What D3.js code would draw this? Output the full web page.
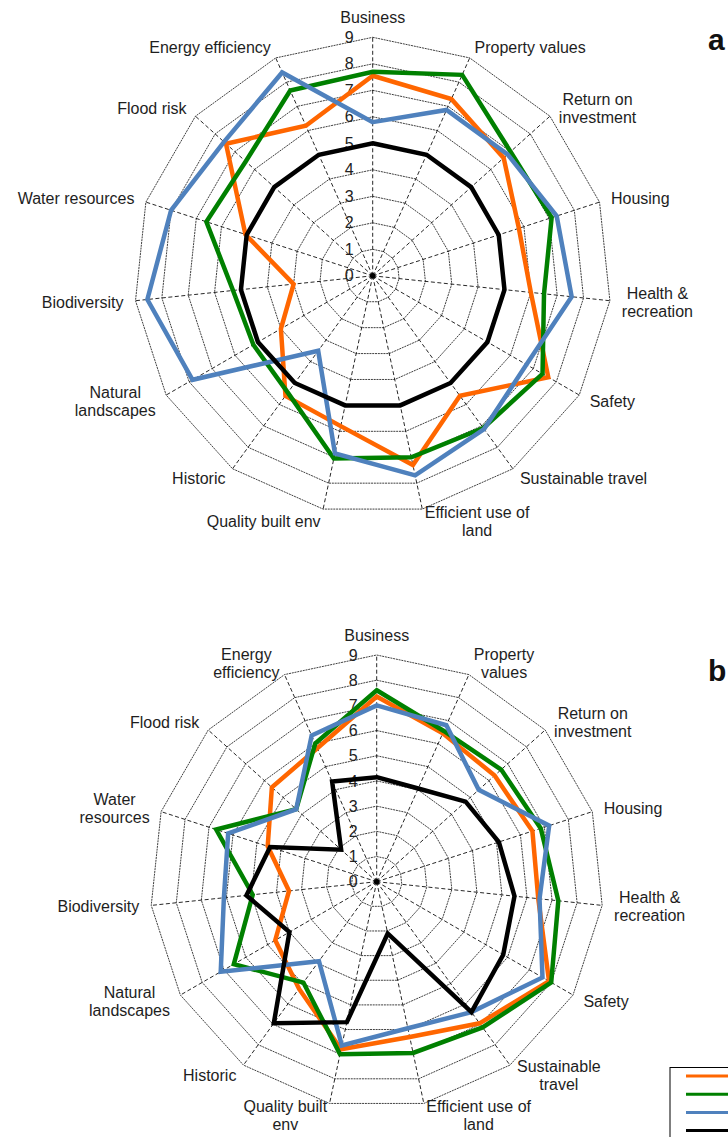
<!DOCTYPE html>
<html>
<head>
<meta charset="utf-8">
<script src="https://cdn.jsdelivr.net/npm/d3@7/dist/d3.min.js"></script>
<style>
  html, body { margin: 0; padding: 0; background: #fff; }
  svg { display: block; font-family: "Liberation Sans", Arial, sans-serif; }
</style>
</head>
<body>
<svg id="chart" width="728" height="1137"></svg>
<script>
// Fifteen assessment criteria, clockwise from the top
const categories = [
  "Business", "Property values", "Return on investment", "Housing",
  "Health & recreation", "Safety", "Sustainable travel", "Efficient use of land",
  "Quality built env", "Historic", "Natural landscapes", "Biodiversity",
  "Water resources", "Flood risk", "Energy efficiency"
];

// Axis captions as wrapped in each panel ("\n" = line break)
const labelsA = [
  "Business", "Property values", "Return on\ninvestment", "Housing",
  "Health &\nrecreation", "Safety", "Sustainable travel", "Efficient use of\nland",
  "Quality built env", "Historic", "Natural\nlandscapes", "Biodiversity",
  "Water resources", "Flood risk", "Energy efficiency"
];
const labelsB = [
  "Business", "Property\nvalues", "Return on\ninvestment", "Housing",
  "Health &\nrecreation", "Safety", "Sustainable\ntravel", "Efficient use of\nland",
  "Quality built\nenv", "Historic", "Natural\nlandscapes", "Biodiversity",
  "Water\nresources", "Flood risk", "Energy\nefficiency"
];

// Radial tick labels
const tickValues = [0, 1, 2, 3, 4, 5, 6, 7, 8, 9];

// Panel a scores
const aOrange = [7.55, 7.3, 6.65, 5.8, 6.0, 7.65, 5.6, 7.3, 5.8, 5.6, 4.0, 3.0, 5.05, 7.45, 6.2];
const aGreen  = [7.7, 8.3, 7.0, 7.1, 6.5, 7.4, 7.1, 7.0, 7.05, 5.45, 5.2, 5.3, 6.6, 6.45, 7.65];
const aBlue   = [5.8, 6.85, 6.85, 7.3, 7.55, 6.7, 7.15, 7.7, 6.85, 3.5, 7.85, 8.55, 8.0, 7.55, 8.4];
const aBlack  = [5, 5, 5, 5, 5, 5, 5, 5, 5, 5, 5, 5, 5, 5, 5];

// Panel b scores
const bOrange = [7.35, 6.45, 6.3, 6.5, 6.45, 7.9, 6.95, 6.3, 6.8, 5.25, 4.65, 3.5, 4.55, 5.6, 5.8];
const bGreen  = [7.6, 6.55, 6.65, 6.85, 7.25, 8.0, 7.15, 6.95, 7.0, 4.95, 6.55, 4.95, 6.7, 4.3, 6.0];
const bBlue   = [7.0, 6.8, 5.45, 7.2, 6.5, 7.6, 6.4, 5.95, 6.65, 3.9, 7.15, 6.1, 6.2, 4.3, 6.35];
const bBlack  = [4.15, 4.05, 4.75, 5.1, 5.5, 5.8, 6.4, 2.1, 5.7, 6.95, 4.0, 5.2, 4.45, 1.9, 4.35];

const seriesColors = ["#ff6600", "#008000", "#4f81bd", "#000000"];

const svg = d3.select("#chart");

function drawRadar(opts) {
  const { cx, cy, R, labels, series, tag, tagY } = opts;
  const n = categories.length;
  const r = d3.scaleLinear().domain([0, 9]).range([0, R]);
  const angle = d3.scaleLinear().domain([0, n]).range([0, 2 * Math.PI]);

  const g = svg.append("g").attr("transform", `translate(${cx},${cy})`);

  // concentric grid polygons, one per tick value
  const ringLine = d3.lineRadial()
    .angle((d, i) => angle(i))
    .radius(d => r(d))
    .curve(d3.curveLinearClosed);
  g.append("g").selectAll("path")
    .data(tickValues.filter(v => v > 0))
    .join("path")
    .attr("d", v => ringLine(categories.map(() => v)))
    .attr("fill", "none")
    .attr("stroke", "#000")
    .attr("stroke-width", 0.75)
    .attr("stroke-dasharray", "2,0.8");

  // dashed spokes
  g.append("g").selectAll("line")
    .data(categories)
    .join("line")
    .attr("x1", 0).attr("y1", 0)
    .attr("x2", (d, i) => r(9) * Math.sin(angle(i)))
    .attr("y2", (d, i) => -r(9) * Math.cos(angle(i)))
    .attr("stroke", "#000")
    .attr("stroke-width", 0.85)
    .attr("stroke-dasharray", "4,2.5");

  g.append("circle").attr("r", 2.8).attr("fill", "#000");

  // tick labels along the top spoke
  g.append("g").selectAll("text")
    .data(tickValues)
    .join("text")
    .attr("x", -19)
    .attr("y", v => -r(v) + 5.6)
    .attr("text-anchor", "end")
    .attr("font-size", 16)
    .attr("fill", "#222")
    .text(v => v);

  // score polygons
  const scoreLine = d3.lineRadial()
    .angle((d, i) => angle(i))
    .radius(d => r(d))
    .curve(d3.curveLinearClosed);
  g.append("g").selectAll("path")
    .data(series)
    .join("path")
    .attr("d", d => scoreLine(d))
    .attr("fill", "none")
    .attr("stroke", (d, i) => seriesColors[i])
    .attr("stroke-width", 4.5)
    .attr("stroke-linejoin", "miter")
    .attr("stroke-miterlimit", 3);

  // axis captions
  const lh = 18, fs = 16;
  labels.forEach((lab, i) => {
    const a = angle(i);
    const s = Math.sin(a), c = Math.cos(a);
    const px = (r(9) + 12) * s;
    let py = -(r(9) + 12) * c;
    if (c > 0.95) py -= 8;
    const lines = lab.split("\n");
    const t = g.append("text")
      .attr("font-size", fs)
      .attr("fill", "#1e1e1e")
      .attr("text-anchor", "middle");
    const spans = lines.map((ln, k) => t.append("tspan")
      .attr("y", py + (k - (lines.length - 1) / 2) * lh + fs * 0.716 / 2)
      .text(ln));
    const maxW = d3.max(spans, sp => sp.node().getComputedTextLength());
    let mx = px;
    if (s > 0.05) mx = px + maxW / 2;
    else if (s < -0.05) mx = px - maxW / 2;
    spans.forEach(sp => sp.attr("x", mx));
  });

  // panel letter
  svg.append("text")
    .attr("x", 708)
    .attr("y", tagY)
    .attr("font-size", 30)
    .attr("font-weight", "bold")
    .attr("fill", "#111")
    .text(tag);
}

drawRadar({
  cx: 372.7, cy: 275.8, R: 238.5, labels: labelsA,
  series: [aOrange, aGreen, aBlue, aBlack], tag: "a", tagY: 50
});
drawRadar({
  cx: 376.7, cy: 881.7, R: 226.7, labels: labelsB,
  series: [bOrange, bGreen, bBlue, bBlack], tag: "b", tagY: 681
});

// legend (swatches only; box runs past the right edge)
const legend = svg.append("g");
legend.append("rect")
  .attr("x", 670).attr("y", 1067.5)
  .attr("width", 200).attr("height", 120)
  .attr("fill", "#fff").attr("stroke", "#000").attr("stroke-width", 1);
legend.selectAll("line.sw")
  .data(seriesColors)
  .join("line")
  .attr("class", "sw")
  .attr("x1", 686).attr("x2", 780)
  .attr("y1", (d, i) => 1076 + i * 18.2)
  .attr("y2", (d, i) => 1076 + i * 18.2)
  .attr("stroke", d => d)
  .attr("stroke-width", 3);
</script>
</body>
</html>
